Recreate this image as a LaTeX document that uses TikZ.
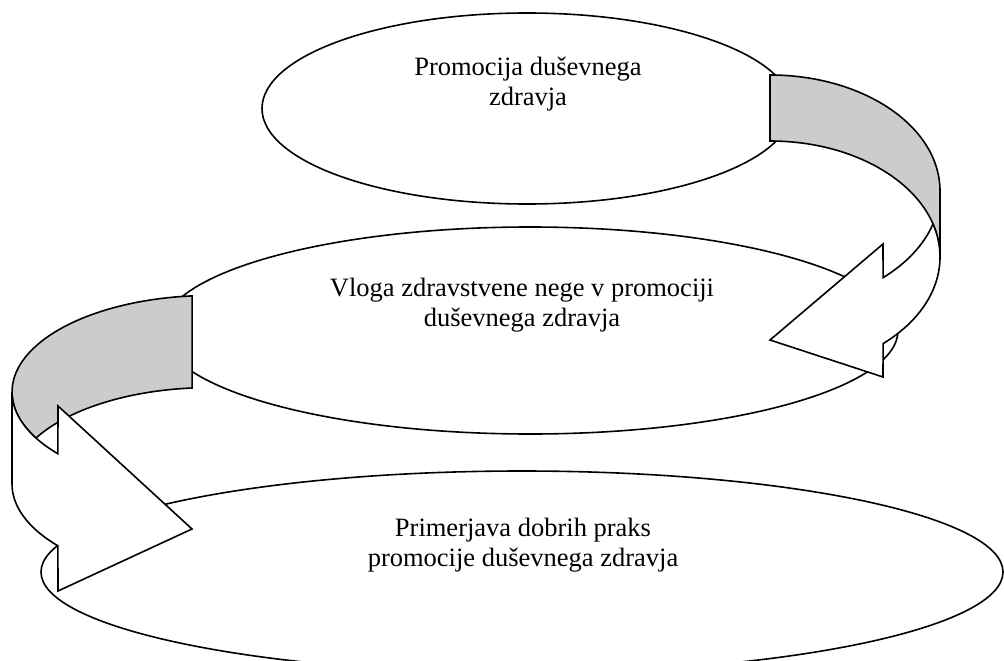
\documentclass[tikz,border=0pt]{standalone}
\usepackage{fontspec}
\setmainfont{Liberation Serif}
\usetikzlibrary{shapes.geometric}
\begin{document}
\begin{tikzpicture}[x=1pt,y=-1pt,
  bubble/.style={draw, ellipse, fill=white, line width=1.6pt, inner sep=0pt},
  lbl/.style={anchor=base, inner sep=0pt, font=\fontsize{26.5}{30}\selectfont},
  bandback/.style={draw, fill=black!20, line width=1.6pt, line join=miter},
  bandfront/.style={draw, fill=white, line width=1.6pt, line join=miter}]
\useasboundingbox (0,0) rectangle (1004,661);
% ellipses
\node[bubble, minimum width=530pt, minimum height=191pt] (e1) at (527,108.5) {};
\node[bubble, minimum width=736pt, minimum height=207pt] (e2) at (530,330.5) {};
\node[bubble, minimum width=962pt, minimum height=202pt] (e3) at (522,572) {};
% labels
\node[lbl] (t1) at (528,75) {\begin{tabular}[t]{@{}c@{}}Promocija duševnega\\zdravja\end{tabular}};
\node[lbl] (t2) at (522,296) {\begin{tabular}[t]{@{}c@{}}Vloga zdravstvene nege v promociji\\duševnega zdravja\end{tabular}};
\node[lbl] (t3) at (523,536.5) {\begin{tabular}[t]{@{}c@{}}Primerjava dobrih praks\\promocije duševnega zdravja\end{tabular}};
% right curved arrow: back (grey) part
\path[bandback] (770,75) arc[start angle=-90, end angle=0, x radius=170, y radius=116]
  -- (940,257) arc[start angle=0, end angle=-90, x radius=170, y radius=116] -- cycle;
% right curved arrow: front part with head
\path[bandfront] (770,191) ++(16.53:170 and 116)
  arc[start angle=16.53, end angle=48.3, x radius=170, y radius=116]
  -- (883,244) -- (770,340) -- (883,377) -- (883.1,343.6)
  arc[start angle=48.3, end angle=-16.53, x radius=170, y radius=116] -- cycle;
% left curved arrow: back (grey) part
\path[bandback] (210,392) ++(-95.2:198 and 96.5)
  arc[start angle=-95.2, end angle=-208.5, x radius=198, y radius=96.5]
  arc[start angle=-151.5, end angle=-95.2, x radius=198, y radius=96.5] -- cycle;
% left curved arrow: front part with head
\path[bandfront] (210,392) ++(180:198 and 96.5)
  arc[start angle=180, end angle=140.2, x radius=198, y radius=96.5]
  -- (58,406) -- (192,529) -- (58,591) -- (57.9,545.8)
  arc[start angle=140.2, end angle=180, x radius=198, y radius=96.5] -- cycle;
\end{tikzpicture}
\end{document}
